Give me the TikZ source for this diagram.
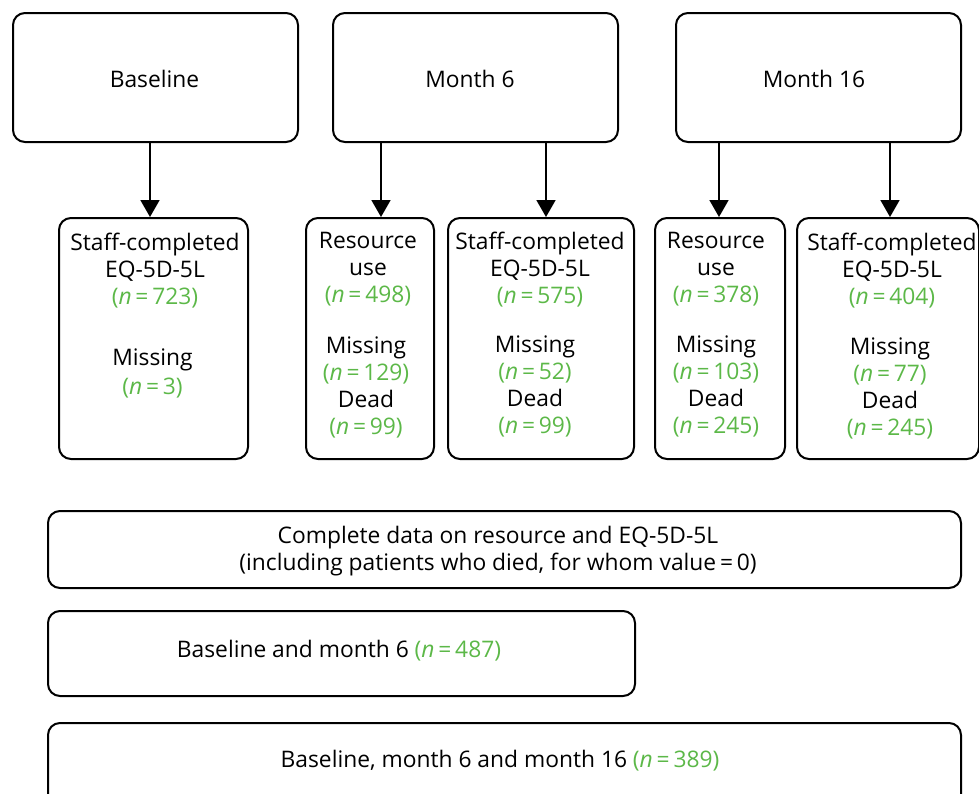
\documentclass[tikz,border=0pt]{standalone}
\usepackage{fontspec}
\setmainfont{Open Sans}
\usetikzlibrary{arrows.meta}
\definecolor{gn}{RGB}{92,184,72}
\newcommand{\nn}[1]{\textcolor{gn}{(\textit{n}\,=\,#1)}}
\begin{document}
\begin{tikzpicture}[x=1pt,y=-1pt,
  box/.style={draw, line width=2pt, rounded corners=12pt, inner sep=0pt, anchor=north west},
  txt/.style={align=center, inner sep=0pt, font=\fontsize{22.8}{27}\selectfont},
  arr/.style={line width=1.8pt, -{Triangle[length=17pt,width=19pt]}}]
\useasboundingbox (0,0) rectangle (979,793);
% top row
\node[box, minimum width=285pt, minimum height=129pt] (base) at (12,12) {};
\node[box, minimum width=285pt, minimum height=129pt] (m6) at (332,12) {};
\node[box, minimum width=285pt, minimum height=129pt] (m16) at (675,12) {};
\node[txt] (tbase) at (154.5,79) {Baseline};
\node[txt] (tm6) at (470,79) {Month 6};
\node[txt] (tm16) at (814,79) {Month 16};
% second row
\node[box, minimum width=189pt, minimum height=241pt] (A) at (58,217) {};
\node[box, minimum width=128pt, minimum height=241pt] (B) at (305,217) {};
\node[box, minimum width=186pt, minimum height=241pt] (C) at (447,217) {};
\node[box, minimum width=130pt, minimum height=241pt] (D) at (654,217) {};
\node[box, minimum width=182pt, minimum height=241pt] (E) at (796,217) {};
\node[txt] (a1) at (155,270.5) {Staff-completed\\EQ-5D-5L\\\nn{723}};
\node[txt] (a2) at (152.5,373.5) {Missing\\[2pt]\nn{3}};
\node[txt] (b1) at (368,269) {Resource\\use\\\nn{498}};
\node[txt] (b2) at (366,387.5) {Missing\\\nn{129}\\Dead\\\nn{99}};
\node[txt] (c1) at (540,270) {Staff-completed\\EQ-5D-5L\\\nn{575}};
\node[txt] (c2) at (535,386.5) {Missing\\\nn{52}\\Dead\\\nn{99}};
\node[txt] (d1) at (716,269) {Resource\\use\\\nn{378}};
\node[txt] (d2) at (716,386.5) {Missing\\\nn{103}\\Dead\\\nn{245}};
\node[txt] (e1) at (892,270.5) {Staff-completed\\EQ-5D-5L\\\nn{404}};
\node[txt] (e2) at (890,388) {Missing\\\nn{77}\\Dead\\\nn{245}};
% arrows
\draw[arr] ([xshift=-5.5pt]base.south) -- ([xshift=-3.5pt]A.north);
\draw[arr] ([xshift=-94.5pt]m6.south) -- ([xshift=11pt]B.north);
\draw[arr] ([xshift=70.5pt]m6.south) -- ([xshift=5pt]C.north);
\draw[arr] ([xshift=-99.5pt]m16.south) -- ([xshift=-1pt]D.north);
\draw[arr] ([xshift=71.5pt]m16.south) -- ([xshift=2pt]E.north);
% bottom
\node[box, minimum width=913pt, minimum height=77pt] (all) at (47,510) {};
\node[box, minimum width=587pt, minimum height=85pt] (b6) at (47,610) {};
\node[box, minimum width=913pt, minimum height=88pt] (b16) at (47,722) {};
\node[txt] (tall) at (498,551.5) {Complete data on resource and EQ-5D-5L\\(including patients who died, for whom value\,=\,0)};
\node[txt] (tb6) at (339,651) {Baseline and month 6 \nn{487}};
\node[txt] (tb16) at (500,761) {Baseline, month 6 and month 16 \nn{389}};
\end{tikzpicture}
\end{document}
